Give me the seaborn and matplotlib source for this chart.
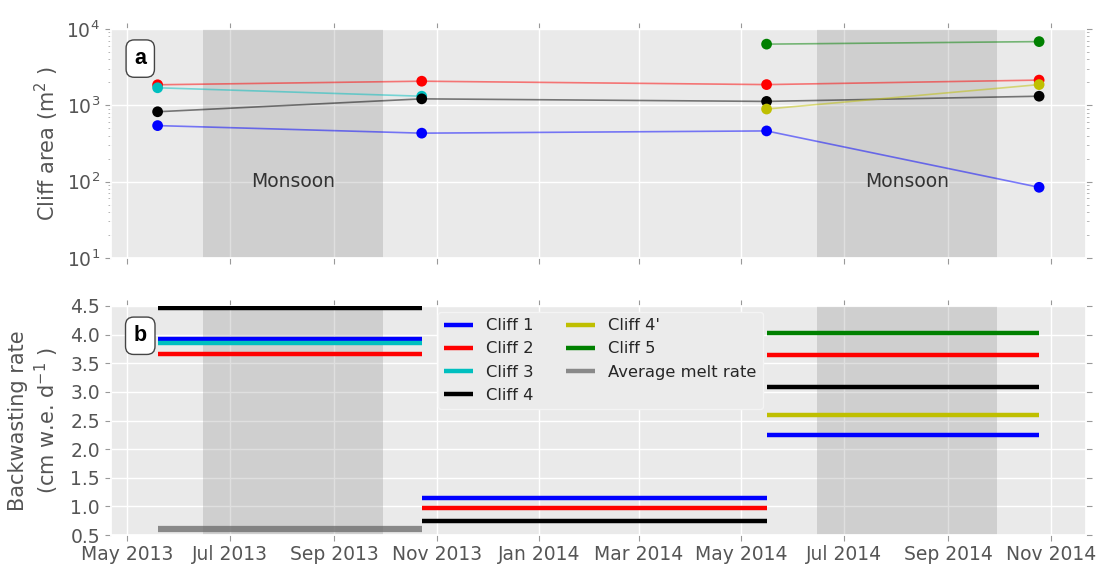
import numpy as np
import pandas as pd
import matplotlib.pyplot as plt
import matplotlib.dates as mdates
from matplotlib.ticker import LogLocator
import seaborn as sns

nan = np.nan

# survey dates (DEM acquisitions)
survey_dates = pd.to_datetime(['2013-05-19', '2013-10-23', '2014-05-16', '2014-10-25'])

cliff_names = ['Cliff 1', 'Cliff 2', 'Cliff 3', 'Cliff 4', "Cliff 4'", 'Cliff 5']
cliff_colors = ['#0000ff', '#ff0000', '#00bfbf', '#000000', '#bfbf00', '#008000']

# cliff area (m2) at each survey
area_cliff1 = [540, 430, 460, 84]
area_cliff2 = [1850, 2060, 1860, 2130]
area_cliff3 = [1690, 1310, nan, nan]
area_cliff4 = [820, 1210, 1120, 1310]
area_cliff4b = [nan, nan, 890, 1860]
area_cliff5 = [nan, nan, 6300, 6800]

# backwasting rate (cm w.e. d-1) for each period between surveys
rate_cliff1 = [3.93, 1.15, 2.25]
rate_cliff2 = [3.66, 0.98, 3.64]
rate_cliff3 = [3.86, nan, nan]
rate_cliff4 = [4.46, 0.74, 3.09]
rate_cliff4b = [nan, nan, 2.59]
rate_cliff5 = [nan, nan, 4.03]
avg_melt = [0.6, nan, nan]

monsoon_periods = [('2013-06-15', '2013-09-30'), ('2014-06-15', '2014-09-30')]

areas = [area_cliff1, area_cliff2, area_cliff3, area_cliff4, area_cliff4b, area_cliff5]
rates = [rate_cliff1, rate_cliff2, rate_cliff3, rate_cliff4, rate_cliff4b, rate_cliff5]

sns.set_theme(style='darkgrid', rc={
    'axes.facecolor': '#EAEAEA',
    'grid.color': 'white',
    'grid.linewidth': 1.0,
    'axes.labelcolor': '#555555',
    'xtick.color': '#555555',
    'ytick.color': '#555555',
})
plt.rcParams['font.family'] = ['DejaVu Sans']

df_area = pd.DataFrame({
    'date': np.tile(survey_dates, len(cliff_names)),
    'area': np.concatenate(areas),
    'cliff': np.repeat(cliff_names, len(survey_dates)),
}).dropna()

palette = dict(zip(cliff_names, cliff_colors))

fig, (ax1, ax2) = plt.subplots(2, 1, figsize=(11.05, 5.65), dpi=100, sharex=True)
fig.subplots_adjust(left=0.100, right=0.983, top=0.949, bottom=0.053, hspace=0.21)

for ax in (ax1, ax2):
    for start, end in monsoon_periods:
        ax.axvspan(pd.Timestamp(start), pd.Timestamp(end), color='#808080', alpha=0.25, lw=0, zorder=1)

# panel a
sns.lineplot(data=df_area, x='date', y='area', hue='cliff', palette=palette,
             alpha=0.5, lw=1.2, legend=False, ax=ax1, zorder=2)
sns.scatterplot(data=df_area, x='date', y='area', hue='cliff', palette=palette,
                s=60, edgecolor='none', legend=False, ax=ax1, zorder=3)
ax1.set_yscale('log')
ax1.set_ylim(10, 1e4)
ax1.yaxis.set_major_locator(LogLocator(base=10))
ax1.set_xlabel('')
ax1.set_ylabel('Cliff area (m$^2$ )', fontsize=15)
for start, end in monsoon_periods:
    mid = pd.Timestamp(start) + (pd.Timestamp(end) - pd.Timestamp(start)) / 2
    ax1.text(mid, 100, 'Monsoon', ha='center', va='center', fontsize=13.5, color='#333333')

# panel b
for name, color, vals in zip(cliff_names, cliff_colors, rates):
    labelled = False
    for i, v in enumerate(vals):
        if np.isnan(v):
            continue
        ax2.plot([survey_dates[i], survey_dates[i + 1]], [v, v], color=color, lw=3.2,
                 solid_capstyle='butt', zorder=3, label=None if labelled else name)
        labelled = True
for i, v in enumerate(avg_melt):
    if not np.isnan(v):
        ax2.plot([survey_dates[i], survey_dates[i + 1]], [v, v], color='#696969', alpha=0.75,
                 lw=4.5, solid_capstyle='butt', zorder=3, label='Average melt rate')

ax2.set_ylim(0.5, 4.5)
ax2.set_yticks(np.arange(0.5, 4.51, 0.5))
ax2.set_ylabel('Backwasting rate\n(cm w.e. d$^{-1}$ )', fontsize=15)
ax2.set_xlim(pd.Timestamp('2013-04-21'), pd.Timestamp('2014-11-22'))
ax2.xaxis.set_major_locator(mdates.MonthLocator(bymonth=[1, 3, 5, 7, 9, 11]))
ax2.xaxis.set_major_formatter(mdates.DateFormatter('%b %Y'))
ax2.set_xlabel('')

leg = ax2.legend(ncol=2, loc='upper center', bbox_to_anchor=(0.502, 0.975), borderaxespad=0,
                 fontsize=11.8, handlelength=1.75, columnspacing=2.0, frameon=True,
                 facecolor='#EBEBEB', edgecolor='#F4F4F4', framealpha=1)
for line in leg.get_lines():
    line.set_linewidth(3.2)

for ax, letter in ((ax1, 'a'), (ax2, 'b')):
    ax.tick_params(which='major', direction='out', length=4, width=0.8, color='#999999',
                   labelsize=13.5, top=True, right=True, bottom=True, left=True)
    ax.tick_params(which='minor', direction='out', length=2, width=0.6, color='#aaaaaa',
                   left=True, right=True)
    ax.text(0.0305, 0.87, letter, transform=ax.transAxes, ha='center', va='center',
            fontsize=15.5, fontweight='bold', family='Liberation Sans', color='black', zorder=5,
            bbox=dict(boxstyle='round,pad=0.38', fc='white', ec='#444444', lw=1.0))

fig.align_ylabels([ax1, ax2])
fig.savefig('out.png', dpi=100)
